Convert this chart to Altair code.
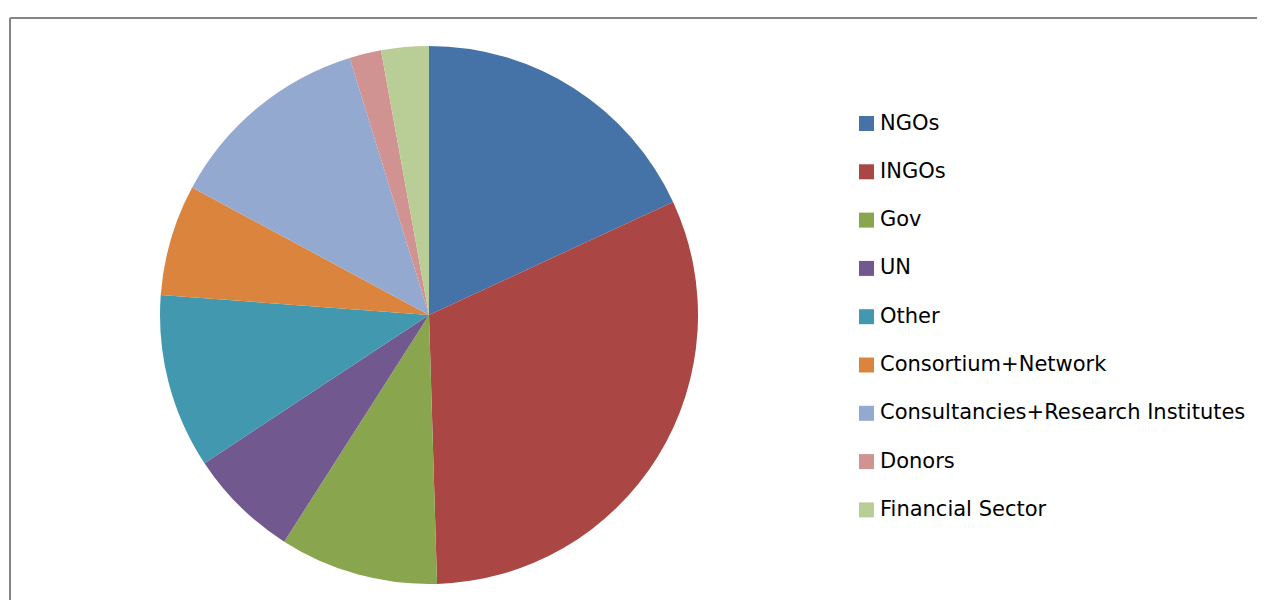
import altair as alt
import pandas as pd

categories = ["NGOs", "INGOs", "Gov", "UN", "Other", "Consortium+Network",
              "Consultancies+Research Institutes", "Donors", "Financial Sector"]
counts = [19, 33, 10, 7, 11, 7, 13, 2, 3]
colors = ["#4572A7", "#AA4643", "#89A54E", "#71588F", "#4198AF", "#DB843D",
          "#93A9CF", "#D19392", "#B9CD96"]

df = pd.DataFrame({"category": categories, "count": counts,
                   "order": list(range(len(categories)))})

pie = alt.Chart(df).mark_arc(stroke=None).encode(
    theta=alt.Theta("count:Q", stack=True),
    order=alt.Order("order:Q"),
    color=alt.Color(
        "category:N",
        scale=alt.Scale(domain=categories, range=colors),
        sort=categories,
        legend=alt.Legend(
            title=None, orient="none", legendX=846, legendY=95,
            symbolType="square", symbolSize=225, symbolStrokeWidth=0,
            symbolOpacity=1, labelFont="DejaVu Sans",
            labelFontSize=21, labelColor="#000000", labelOffset=3,
            rowPadding=26.3, padding=0, offset=0, labelLimit=600,
        ),
    ),
    x=alt.value(419),
    y=alt.value(297),
    radius=alt.value(269),
)

frame_left = alt.Chart(df).mark_rule(color="#858585", strokeWidth=2).encode(
    x=alt.value(0), y=alt.value(0), y2=alt.value(600))
frame_top = alt.Chart(df).mark_rule(color="#858585", strokeWidth=2).encode(
    x=alt.value(0), x2=alt.value(1260), y=alt.value(0))

chart = alt.layer(frame_left, frame_top, pie).properties(
    width=1247, height=582,
    padding={"left": 2, "top": 10, "right": 0, "bottom": 0},
    autosize=alt.AutoSizeParams(type="none"),
).configure_view(stroke=None)

chart.save("out.html", embed_options={"renderer": "svg", "actions": False})
